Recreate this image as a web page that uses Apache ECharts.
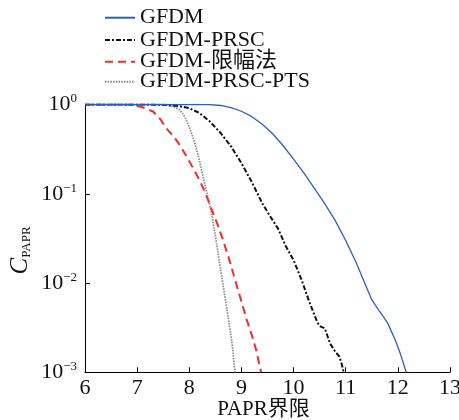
<!DOCTYPE html>
<html>
<head>
<meta charset="utf-8">
<script src="https://cdn.jsdelivr.net/npm/echarts@6/dist/echarts.min.js"></script>
<style>html,body{margin:0;padding:0;background:#fff}#c{width:459px;height:420px}</style>
</head>
<body>
<div id="c"></div>
<script>
const seriesNames = ['GFDM', 'GFDM-PRSC', 'GFDM-限幅法', 'GFDM-PRSC-PTS'];
const xTicks = [6, 7, 8, 9, 10, 11, 12, 13];
const yExponents = [0, -1, -2, -3];

const gfdmX = [6, 7, 8, 8.4, 8.6, 8.8, 9.0, 9.2, 9.4, 9.6, 9.8, 10.0, 10.2, 10.4, 10.6, 10.8, 11.0, 11.2, 11.35, 11.5, 11.65, 11.8, 11.95, 12.05, 12.16];
const gfdmY = [1, 1, 1, 0.995, 0.975, 0.925, 0.84, 0.73, 0.6, 0.47, 0.345, 0.245, 0.17, 0.115, 0.077, 0.05, 0.03, 0.017, 0.0105, 0.0065, 0.0048, 0.0036, 0.0023, 0.0016, 0.001];

const prscX = [6, 7, 7.5, 7.8, 8.0, 8.2, 8.4, 8.6, 8.8, 9.0, 9.2, 9.4, 9.55, 9.7, 9.85, 10.0, 10.15, 10.3, 10.45, 10.5, 10.6, 10.7, 10.8, 10.88, 10.93, 10.96];
const prscY = [1, 1, 0.995, 0.96, 0.91, 0.80, 0.64, 0.48, 0.34, 0.22, 0.135, 0.078, 0.056, 0.041, 0.026, 0.018, 0.011, 0.0062, 0.0037, 0.0033, 0.0031, 0.0021, 0.0017, 0.0015, 0.0012, 0.001];

const clipX = [6, 6.85, 7.05, 7.2, 7.31, 7.45, 7.56, 7.7, 7.82, 7.95, 8.075, 8.2, 8.3, 8.4, 8.52, 8.65, 8.78, 8.9, 9.0, 9.1, 9.2, 9.28, 9.36, 9.38];
const clipY = [1, 1, 0.95, 0.89, 0.83, 0.68, 0.54, 0.44, 0.35, 0.26, 0.193, 0.14, 0.105, 0.074, 0.049, 0.030, 0.0173, 0.0098, 0.0062, 0.0039, 0.0026, 0.0018, 0.0011, 0.001];

const ptsX = [6, 7.5, 7.7, 7.82, 7.92, 8.01, 8.1, 8.17, 8.24, 8.30, 8.37, 8.43, 8.5, 8.555, 8.62, 8.68, 8.73, 8.78, 8.83, 8.875];
const ptsY = [1, 1, 0.95, 0.87, 0.72, 0.54, 0.38, 0.27, 0.18, 0.125, 0.085, 0.058, 0.034, 0.021, 0.012, 0.0073, 0.0047, 0.0031, 0.0019, 0.001];

function pairs(xs, ys) { return xs.map((x, i) => [x, ys[i]]); }

const serif = '"Liberation Serif", "Times New Roman", "Noto Sans CJK SC", serif';
const chart = echarts.init(document.getElementById('c'), null, { renderer: 'canvas' });

const legendTops = [6.7, 29, 50.7, 70.7];
const legends = seriesNames.map((n, i) => ({
  orient: 'vertical',
  left: 104,
  top: legendTops[i],
  padding: 0,
  itemWidth: 30,
  itemHeight: 10,
  itemStyle: { opacity: 0 },
  textStyle: { fontFamily: serif, fontSize: 22, lineHeight: 20, color: '#111' },
  data: [n]
}));

chart.setOption({
  animation: false,
  backgroundColor: '#fff',
  grid: { left: 85, right: 9, top: 104.5, bottom: 47.7, containLabel: false, outerBoundsMode: 'none' },
  legend: legends,
  xAxis: {
    type: 'value',
    min: 6, max: 13, interval: 1,
    name: 'PAPR界限',
    nameLocation: 'middle',
    nameGap: 27,
    nameMoveOverlap: false,
    nameTextStyle: { fontFamily: serif, fontSize: 21, color: '#111', padding: [0, 8, 0, 0] },
    axisLine: { lineStyle: { color: '#000', width: 1 } },
    axisTick: { inside: true, length: 5, lineStyle: { color: '#000' } },
    axisLabel: {
      margin: 5, fontFamily: serif, fontSize: 22, color: '#111',
      formatter: v => xTicks.includes(v) ? String(v) : ''
    },
    splitLine: { show: false }
  },
  yAxis: {
    type: 'log',
    logBase: 10,
    min: 0.001, max: 1,
    name: '{i|C}{s|PAPR}',
    nameLocation: 'middle',
    nameRotate: 90,
    nameGap: 52,
    nameMoveOverlap: false,
    nameTextStyle: {
      padding: [0, 24, 0, 0],
      rich: {
        i: { fontFamily: serif, fontSize: 25, fontStyle: 'italic', color: '#111', lineHeight: 26 },
        s: { fontFamily: serif, fontSize: 13, color: '#111', lineHeight: 13, verticalAlign: 'bottom' }
      }
    },
    axisLine: { show: true, lineStyle: { color: '#000', width: 1 } },
    axisTick: { show: true, inside: true, length: 5, lineStyle: { color: '#000' } },
    axisLabel: {
      margin: 8,
      formatter: v => {
        const e = Math.round(Math.log10(v));
        if (!yExponents.includes(e)) return '';
        return '{b|10}{e|' + (e === 0 ? '0' : '\u2212' + (-e)) + '}';
      },
      rich: {
        b: { fontFamily: serif, fontSize: 22, color: '#111', lineHeight: 24 },
        e: { fontFamily: serif, fontSize: 13, color: '#111', lineHeight: 14, verticalAlign: 'top' }
      }
    },
    splitLine: { show: false }
  },
  series: [
    {
      name: seriesNames[0], type: 'line', data: pairs(gfdmX, gfdmY), symbol: 'none',
      lineStyle: { color: '#2d5fb8', width: 1.3, type: 'solid' }, itemStyle: { color: '#2d5fb8' }, z: 4
    },
    {
      name: seriesNames[1], type: 'line', data: pairs(prscX, prscY), symbol: 'none',
      lineStyle: { color: '#111', width: 2, type: [5, 2, 2, 2] }, itemStyle: { color: '#111' }, z: 3
    },
    {
      name: seriesNames[2], type: 'line', data: pairs(clipX, clipY), symbol: 'none',
      lineStyle: { color: '#f22b2b', width: 2, type: [8, 5] }, itemStyle: { color: '#f22b2b' }, z: 2
    },
    {
      name: seriesNames[3], type: 'line', data: pairs(ptsX, ptsY), symbol: 'none',
      lineStyle: { color: '#8a8a8a', width: 1.8, type: [1.5, 1.2] }, itemStyle: { color: '#8a8a8a' }, z: 1
    }
  ]
});
</script>
</body>
</html>
